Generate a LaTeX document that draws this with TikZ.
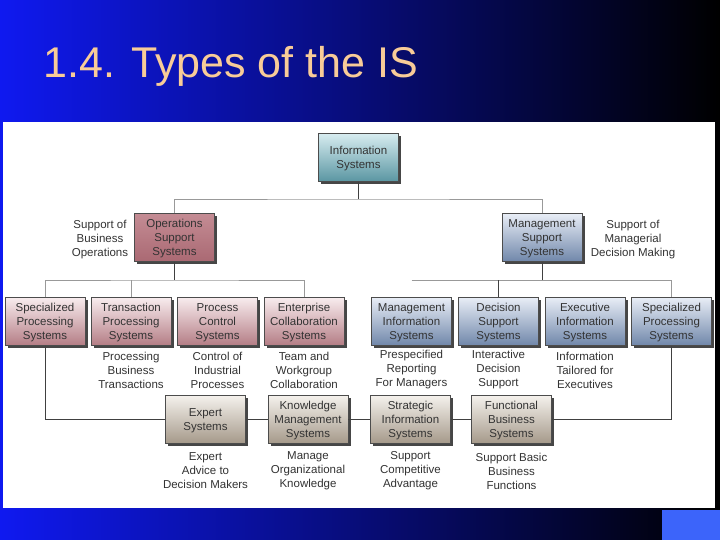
\documentclass[tikz,border=0pt]{standalone}
\usepackage{fontspec}
\setmainfont{Liberation Sans}
\usetikzlibrary{shadows}
\definecolor{titlepeach}{RGB}{248,204,152}
\definecolor{bgleft}{RGB}{15,25,240}
\definecolor{bgmid}{RGB}{0,0,180}
\definecolor{cornerblue}{RGB}{60,100,250}
\definecolor{istop}{RGB}{215,236,240}
\definecolor{isbot}{RGB}{90,150,162}
\definecolor{osstop}{RGB}{196,140,148}
\definecolor{ossbot}{RGB}{170,105,115}
\definecolor{optop}{RGB}{248,236,238}
\definecolor{opbot}{RGB}{180,125,133}
\definecolor{mgttop}{RGB}{232,237,246}
\definecolor{mgtbot}{RGB}{112,135,170}
\definecolor{infotop}{RGB}{244,241,236}
\definecolor{infobot}{RGB}{165,153,138}

\tikzset{
	sysbox/.style={draw=black!70, line width=0.5pt, minimum width=80pt, minimum height=48pt, inner sep=1pt, text depth=0pt, align=center, text=black!80, font=\fontsize{11.5}{14}\selectfont, drop shadow={shadow xshift=2.5pt, shadow yshift=-2.5pt, fill=black!85, opacity=0.85}},
	isbox/.style={sysbox, top color=istop, bottom color=isbot},
	ossbox/.style={sysbox, top color=osstop, bottom color=ossbot},
	opbox/.style={sysbox, top color=optop, bottom color=opbot},
	mgtbox/.style={sysbox, top color=mgttop, bottom color=mgtbot},
	infobox/.style={sysbox, top color=infotop, bottom color=infobot},
	note/.style={align=center, inner sep=0pt, text=black!80, font=\fontsize{11.5}{14}\selectfont},
	link/.style={draw=black!75, line width=0.6pt},
	faint/.style={draw=black!40, line width=0.6pt}
}

\begin{document}
\begin{tikzpicture}[x=1pt, y=-1pt]
			%%%%% START %%%%%
			\useasboundingbox (0, 0) rectangle (720, 540);
			
			\shade[left color=bgleft, middle color=bgmid, right color=black] (0, 0) rectangle (720, 540);
			\fill[white] (3, 122) rectangle (715, 508);
			\fill[cornerblue] (662, 510) rectangle (720, 540);
			
			\node[anchor=base west, text=titlepeach, font=\fontsize{43}{50}\selectfont] (title) at (40, 78) {1.4. Types of the IS};
			
			\node[isbox] (is) at (358.5, 157.5) {Information\\Systems};
			
			\node[ossbox] (oss) at (174.5, 237.5) {Operations\\Support\\Systems};
			\node[mgtbox] (mss) at (542, 237.5) {Management\\Support\\Systems};
			\node[note] (ossn) at (100, 240) {Support of\\Business\\Operations};
			\node[note] (mssn) at (633, 240) {Support of\\Managerial\\Decision Making};
			
			\node[opbox] (spl) at (45, 321.5) {Specialized\\Processing\\Systems};
			\node[opbox] (tps) at (131, 321.5) {Transaction\\Processing\\Systems};
			\node[opbox] (pcs) at (217.5, 321.5) {Process\\Control\\Systems};
			\node[opbox] (ecs) at (304, 321.5) {Enterprise\\Collaboration\\Systems};
			\node[mgtbox] (mis) at (411.5, 321.5) {Management\\Information\\Systems};
			\node[mgtbox] (dss) at (498.5, 321.5) {Decision\\Support\\Systems};
			\node[mgtbox] (eis) at (585, 321.5) {Executive\\Information\\Systems};
			\node[mgtbox] (spr) at (671.5, 321.5) {Specialized\\Processing\\Systems};
			
			\node[note] (tpsn) at (131, 370) {Processing\\Business\\Transactions};
			\node[note] (pcsn) at (217.5, 370) {Control of\\Industrial\\Processes};
			\node[note] (ecsn) at (304, 370) {Team and\\Workgroup\\Collaboration};
			\node[note] (misn) at (411.5, 370) {Prespecified\\Reporting\\For Managers};
			\node[note] (dssn) at (498.5, 370) {Interactive\\Decision\\Support};
			\node[note] (eisn) at (585, 370) {Information\\Tailored for\\Executives};
			
			\node[infobox] (es) at (205.5, 419.5) {Expert\\Systems};
			\node[infobox] (kms) at (308, 419.5) {Knowledge\\Management\\Systems};
			\node[infobox] (sis) at (410.5, 419.5) {Strategic\\Information\\Systems};
			\node[infobox] (fbs) at (511.5, 419.5) {Functional\\Business\\Systems};
			
			\node[note] (esn) at (205.5, 471) {Expert\\Advice to\\Decision Makers};
			\node[note] (kmsn) at (308, 471) {Manage\\Organizational\\Knowledge};
			\node[note] (sisn) at (410.5, 471) {Support\\Competitive\\Advantage};
			\node[note] (fbsn) at (511.5, 471) {Support Basic\\Business\\Functions};
			
			% tree lines
			\coordinate (isbus) at (358.5, 199);
			\coordinate (opsbus) at (174.5, 280);
			\coordinate (mgtbus) at (542, 280);
			
			\draw[link] (is) -- (isbus);
			\draw[faint] (oss) |- (isbus) -| (mss);
			
			\draw[link] (oss) -- (opsbus);
			\draw[faint] (spl) |- (opsbus) -| (ecs);
			\draw[faint] (tps) -- (tps |- opsbus);
			
			\draw[link] (mss) -- (mgtbus);
			\draw[faint] (mis.north |- mgtbus) -| (spr);
			\draw[link] (dss) -- (dss |- mgtbus);
			
			% bottom loop
			\draw[link] (spl) |- (es);
			\draw[link] (es) -- (kms) -- (sis) -- (fbs);
			\draw[link] (fbs) -| (spr);
			
			%%%%% END %%%%%
\end{tikzpicture}
\end{document}
